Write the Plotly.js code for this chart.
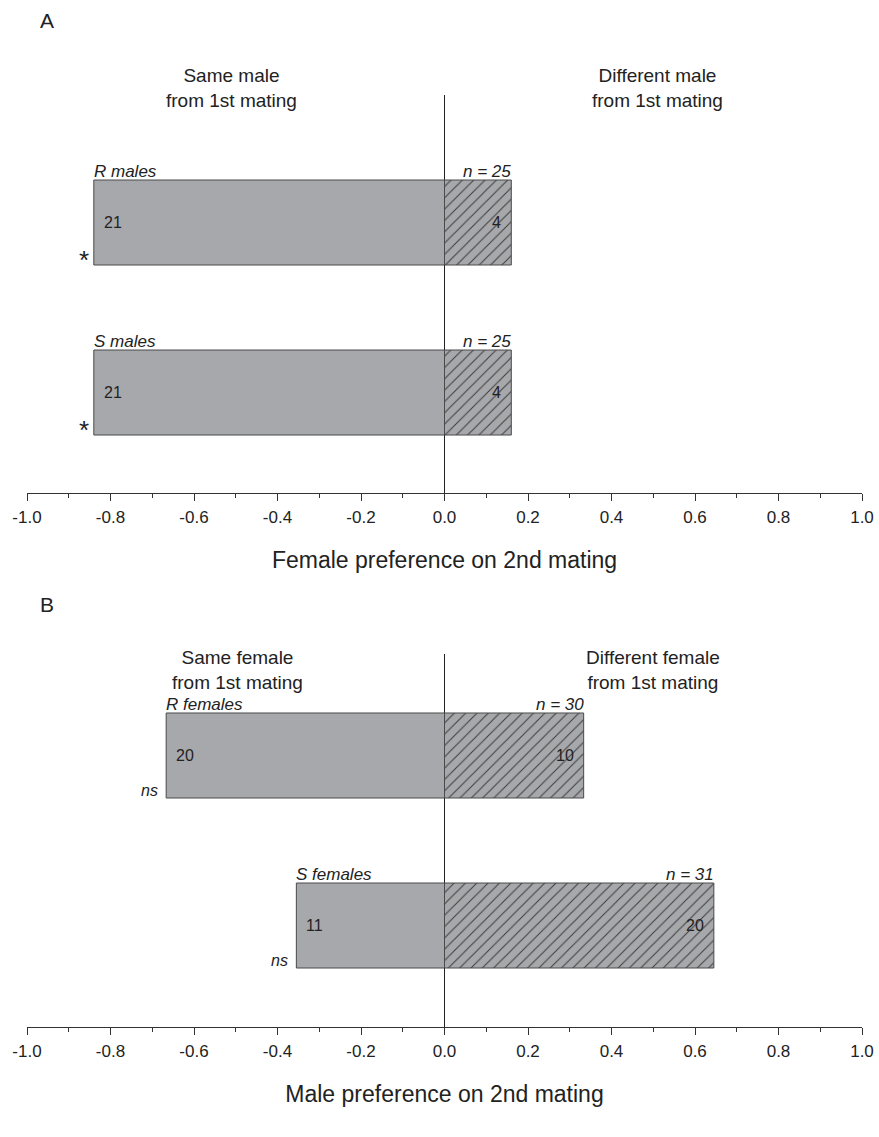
<!DOCTYPE html>
<html>
<head>
<meta charset="utf-8">
<script src="https://cdn.plot.ly/plotly-3.0.1.min.js"></script>
<style>html,body{margin:0;padding:0;background:#fff}#chart{width:879px;height:1137px}</style>
</head>
<body>
<div id="chart"></div>
<script>
// Panel A: female preference (counts)
const groupsA = ["R males", "S males"];
const sameA = [21, 21];
const diffA = [4, 4];
const nA = [25, 25];
const sigA = ["*", "*"];
// Panel B: male preference
const groupsB = ["R females", "S females"];
const sameB = [20, 11];
const diffB = [10, 20];
const nB = [30, 31];
const sigB = ["ns", "ns"];
const xTicks = [-1.0, -0.8, -0.6, -0.4, -0.2, 0.0, 0.2, 0.4, 0.6, 0.8, 1.0];

const fill = "#a7a8ab";
const edge = "#4a4a4a";
const font = "Liberation Sans, Arial, sans-serif";
const ypos = [2, 1];

function traces(same, diff, n, xa, ya) {
  const pSame = same.map((v, i) => -v / n[i]);
  const pDiff = diff.map((v, i) => v / n[i]);
  return [
    {type: "bar", orientation: "h", x: pSame, y: ypos, width: 0.5, xaxis: xa, yaxis: ya,
     marker: {color: fill, line: {color: edge, width: 1}}, hoverinfo: "x", showlegend: false},
    {type: "bar", orientation: "h", x: pDiff, y: ypos, width: 0.5, xaxis: xa, yaxis: ya,
     marker: {color: fill, line: {color: edge, width: 1},
              pattern: {shape: "/", fgcolor: "#3a3a3a", bgcolor: fill, size: 8, solidity: 0.12}},
     hoverinfo: "x", showlegend: false}
  ];
}

function annots(groups, same, diff, n, sig, xr, yr) {
  const out = [];
  groups.forEach((g, i) => {
    const l = -same[i] / n[i], r = diff[i] / n[i], y = ypos[i];
    out.push({x: l, y: y + 0.25, xref: xr, yref: yr, text: "<i>" + g + "</i>", showarrow: false,
              xanchor: "left", yanchor: "bottom", xshift: -2, yshift: -3, font: {size: 17, color: "#222", family: font}});
    out.push({x: r, y: y + 0.25, xref: xr, yref: yr, text: "<i>n = " + n[i] + "</i>", showarrow: false,
              xanchor: "right", yanchor: "bottom", xshift: 2, yshift: -3, font: {size: 17, color: "#222", family: font}});
    out.push({x: l, y: y, xref: xr, yref: yr, text: String(same[i]), showarrow: false,
              xanchor: "left", yanchor: "middle", xshift: 8, font: {size: 16, color: "#222", family: font}});
    out.push({x: r, y: y, xref: xr, yref: yr, text: String(diff[i]), showarrow: false,
              xanchor: "right", yanchor: "middle", xshift: -8, font: {size: 16, color: "#222", family: font}});
    const star = sig[i] === "*";
    out.push({x: l, y: y - 0.25, xref: xr, yref: yr, text: star ? "*" : "<i>ns</i>", showarrow: false,
              xanchor: "right", yanchor: "bottom", xshift: star ? -3 : -6, yshift: star ? -12 : -3,
              font: {size: star ? 26 : 16, color: "#222", family: font}});
  });
  return out;
}

const H = 1137;
const py = p => 1 - p / H;

const data = [...traces(sameA, diffA, nA, "x", "y"), ...traces(sameB, diffB, nB, "x2", "y2")];

const xaxisBase = {
  range: [-1, 1], tickvals: xTicks, ticktext: xTicks.map(v => v.toFixed(1)),
  showline: true, linecolor: "#333", linewidth: 1, ticks: "outside", ticklen: 7, tickcolor: "#333",
  minor: {dtick: 0.1, ticks: "outside", ticklen: 4, tickcolor: "#333"},
  zeroline: true, zerolinecolor: "#222", zerolinewidth: 1, showgrid: false,
  ticklabelstandoff: 2,
  tickfont: {size: 17, color: "#222", family: font}, fixedrange: true
};

const layout = {
  width: 879, height: 1137,
  margin: {l: 27, r: 17, t: 0, b: 0},
  paper_bgcolor: "#fff", plot_bgcolor: "#fff",
  barmode: "overlay", showlegend: false,
  xaxis: Object.assign({}, xaxisBase, {anchor: "y",
    title: {text: "Female preference on 2nd mating", font: {size: 23, color: "#222", family: font}, standoff: 25}}),
  yaxis: {domain: [py(493), py(95)], range: [0.409, 2.75], visible: false, fixedrange: true},
  xaxis2: Object.assign({}, xaxisBase, {anchor: "y2",
    title: {text: "Male preference on 2nd mating", font: {size: 23, color: "#222", family: font}, standoff: 25}}),
  yaxis2: {domain: [py(1027), py(654)], range: [0.403, 2.597], visible: false, fixedrange: true},
  annotations: [
    {x: 0.013, y: py(20), xref: "paper", yref: "paper", text: "A", showarrow: false, xanchor: "left", yanchor: "middle", font: {size: 21, color: "#222", family: font}},
    {x: 0.013, y: py(604), xref: "paper", yref: "paper", text: "B", showarrow: false, xanchor: "left", yanchor: "middle", font: {size: 21, color: "#222", family: font}},
    {x: -0.51, y: py(88), xref: "x", yref: "paper", text: "Same male<br>from 1st mating", showarrow: false, xanchor: "center", yanchor: "middle", font: {size: 19, color: "#222", family: font}},
    {x: 0.51, y: py(88), xref: "x", yref: "paper", text: "Different male<br>from 1st mating", showarrow: false, xanchor: "center", yanchor: "middle", font: {size: 19, color: "#222", family: font}},
    {x: -0.495, y: py(670), xref: "x2", yref: "paper", text: "Same female<br>from 1st mating", showarrow: false, xanchor: "center", yanchor: "middle", font: {size: 19, color: "#222", family: font}},
    {x: 0.50, y: py(670), xref: "x2", yref: "paper", text: "Different female<br>from 1st mating", showarrow: false, xanchor: "center", yanchor: "middle", font: {size: 19, color: "#222", family: font}},
    ...annots(groupsA, sameA, diffA, nA, sigA, "x", "y"),
    ...annots(groupsB, sameB, diffB, nB, sigB, "x2", "y2")
  ]
};

Plotly.newPlot("chart", data, layout, {displayModeBar: false, staticPlot: true});
</script>
</body>
</html>
